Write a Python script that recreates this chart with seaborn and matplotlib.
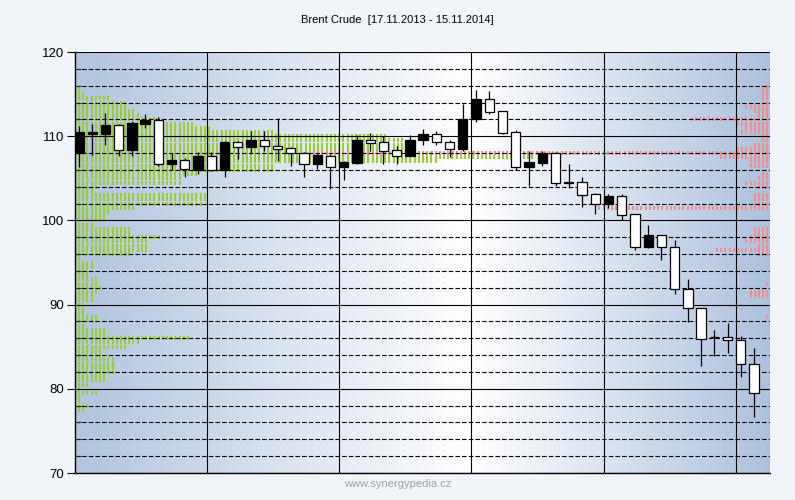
import numpy as np
import pandas as pd
import seaborn as sns
import matplotlib.pyplot as plt
from matplotlib.path import Path
from matplotlib.colors import LinearSegmentedColormap

title = "Brent Crude  [17.11.2013 - 15.11.2014]"
source = "www.synergypedia.cz"

# weekly candles
opens = [108.0, 110.3, 110.3, 111.3, 108.4, 111.5, 111.9, 106.7, 107.2, 106.0,
         107.6, 106.0, 109.3, 108.7, 109.5, 108.8, 108.6, 108.0, 106.7, 107.7,
         106.4, 106.85, 109.5, 109.3, 108.4, 107.65, 109.5, 110.3, 109.3, 108.5,
         112.1, 114.4, 113.0, 110.5, 106.3, 106.85, 108.0, 104.45, 104.55, 103.1,
         102.0, 102.9, 100.8, 96.8, 98.3, 96.8, 91.9, 89.6, 86.15, 86.1,
         85.8, 82.95]
highs = [111.2, 111.4, 112.7, 111.4, 111.8, 112.6, 112.3, 108.0, 107.4, 108.1,
         108.1, 109.4, 109.4, 110.6, 110.6, 112.2, 108.7, 108.1, 107.9, 107.9,
         107.0, 110.1, 110.4, 110.0, 108.8, 110.1, 110.8, 110.6, 109.6, 113.8,
         115.5, 115.4, 113.0, 110.7, 108.3, 108.2, 108.1, 106.7, 105.2, 103.2,
         103.1, 103.1, 100.8, 99.5, 98.3, 97.7, 93.0, 89.6, 87.0, 87.8,
         86.3, 84.8]
lows = [106.3, 107.8, 109.0, 107.7, 107.6, 111.0, 106.5, 106.0, 105.2, 105.5,
        105.9, 105.1, 107.3, 108.0, 108.2, 107.1, 106.5, 105.2, 106.1, 103.7,
        104.8, 106.7, 108.2, 106.7, 106.7, 107.6, 108.9, 109.0, 107.5, 108.3,
        111.7, 112.6, 110.3, 106.0, 104.1, 106.5, 104.1, 103.8, 101.6, 100.8,
        101.5, 100.0, 96.5, 96.7, 95.3, 91.3, 87.9, 82.7, 83.9, 84.3,
        81.4, 76.6]
closes = [110.5, 110.5, 111.3, 108.4, 111.6, 111.9, 106.7, 107.2, 106.1, 107.6,
          106.0, 109.3, 108.7, 109.5, 108.8, 108.5, 108.0, 106.7, 107.8, 106.4,
          106.9, 109.55, 109.2, 108.3, 107.7, 109.55, 110.3, 109.3, 108.5, 112.1,
          114.4, 112.9, 110.4, 106.3, 106.9, 108.0, 104.4, 104.55, 103.05, 102.0,
          102.9, 100.7, 96.8, 98.3, 96.8, 91.9, 89.6, 85.95, 86.2, 85.75,
          82.9, 79.45]

# price profile, dots per level (green from the left, red from the right)
green_levels = [115.5, 115.0, 114.5, 114.0, 113.5, 113.0, 112.5, 112.0, 111.5, 111.0,
                110.5, 110.0, 109.5, 109.0, 108.5, 108.0, 107.5, 107.0, 106.5, 106.0,
                105.5, 105.0, 104.5, 104.0, 103.5, 103.0, 102.5, 102.0, 101.5, 101.0,
                100.5, 100.0, 99.5, 99.0, 98.5, 98.0, 97.5, 97.0, 96.5, 96.0,
                95.5, 95.0, 94.5, 94.0, 93.5, 93.0, 92.5, 92.0, 91.5, 91.0,
                90.5, 90.0, 89.5, 89.0, 88.5, 88.0, 87.5, 87.0, 86.5, 86.0,
                85.5, 85.0, 84.5, 84.0, 83.5, 83.0, 82.5, 82.0, 81.5, 81.0,
                80.5, 80.0, 79.5, 79.0, 78.5, 78.0, 77.5]
green_counts = [1, 2, 8, 12, 12, 14, 15, 20, 28, 32,
                47, 74, 78, 80, 80, 96, 109, 86, 47, 47,
                29, 25, 25, 5, 4, 31, 31, 30, 14, 8,
                7, 7, 4, 13, 13, 20, 17, 17, 17, 13,
                1, 4, 4, 3, 3, 5, 5, 6, 5, 4,
                4, 2, 2, 2, 5, 5, 2, 7, 7, 27,
                15, 12, 6, 6, 9, 9, 9, 9, 7, 7,
                3, 1, 5, 1, 1, 3, 2]
red_levels = [116.0, 115.5, 115.0, 114.5, 114.0, 113.5, 113.0, 112.5, 112.0, 111.5,
              111.0, 110.5, 110.0, 109.5, 109.0, 108.5, 108.0, 107.5, 107.0, 106.5,
              105.5, 105.0, 104.5, 104.0, 103.0, 102.5, 102.0, 101.5, 99.0, 98.5,
              98.0, 97.5, 97.0, 96.5, 96.0, 92.5, 91.5, 91.0, 88.5]
red_counts = [1, 2, 2, 2, 2, 6, 4, 3, 19, 8,
              6, 7, 2, 2, 4, 8, 110, 12, 5, 5,
              2, 3, 6, 3, 4, 4, 4, 41, 4, 4,
              5, 6, 3, 13, 3, 1, 5, 5, 1]

sns.set_theme(style="white")
plt.rcParams['font.family'] = ['Liberation Sans', 'DejaVu Sans']

fig = plt.figure(figsize=(7.95, 5.0), dpi=100, facecolor='#f1f4f9')
ax = fig.add_axes([0.0943, 0.054, 0.8742, 0.842])

x0, x1 = -0.3, 52.2

# horizontal gradient background
bg = LinearSegmentedColormap.from_list('bg', [(0, '#b2c5df'), (0.57, '#ffffff'), (1, '#adc2de')])
ax.imshow(np.linspace(0, 1, 256).reshape(1, -1), extent=[x0, x1, 70, 120],
          aspect='auto', cmap=bg, zorder=0)

# profile dots
step = 0.317
g = pd.DataFrame([(k * step, p) for p, n in zip(green_levels, green_counts) for k in range(n)],
                 columns=['x', 'price'])
r = pd.DataFrame([(52.0 - k * step, p) for p, n in zip(red_levels, red_counts) for k in range(n)],
                 columns=['x', 'price'])
dot = Path([(-0.3, -0.5), (0.3, -0.5), (0.3, 0.5), (-0.3, 0.5), (-0.3, -0.5)], closed=True)
sns.scatterplot(data=g, x='x', y='price', marker=dot, s=12, color='#9acd32',
                linewidth=0, antialiased=False, ax=ax, zorder=1, legend=False)
sns.scatterplot(data=r, x='x', y='price', marker=dot, s=12, color='#f28e8e',
                linewidth=0, antialiased=False, ax=ax, zorder=1, legend=False)

# grid
ax.set_axisbelow(False)
ax.set_yticks(range(70, 121, 10))
ax.set_yticks(np.arange(70, 121, 2), minor=True)
ax.grid(axis='y', which='major', color='black', lw=0.8, ls='-')
ax.grid(axis='y', which='minor', color='black', lw=0.8, ls=(0, (4, 2)))
ax.grid(axis='x', visible=False)
ax.vlines(np.arange(9.65, 52, 10), 70, 120, color='black', lw=0.8, zorder=2.5)

# candles
xs = np.arange(len(opens))
o, c = np.array(opens), np.array(closes)
ax.vlines(xs, lows, highs, color='black', lw=0.9, zorder=3)
ax.bar(xs, np.abs(c - o), bottom=np.minimum(o, c), width=0.7,
       color=np.where(c > o, 'black', 'white'), edgecolor='black', linewidth=0.9, zorder=4)

ax.set_xlim(x0, x1)
ax.set_ylim(70, 120)
ax.set_xlabel('')
ax.set_ylabel('')
ax.tick_params(axis='x', bottom=False, labelbottom=False)
ax.tick_params(axis='y', which='major', direction='out', length=6, width=0.8,
               labelsize=9.5, pad=2, left=True, colors='black')
ax.tick_params(axis='y', which='minor', direction='in', length=4, width=0.8, left=True)
for s in ['top', 'right']:
    ax.spines[s].set_visible(False)
for s in ['left', 'bottom']:
    ax.spines[s].set_color('black')
    ax.spines[s].set_linewidth(1.0)

fig.text(0.5, 1 - 20 / 500, title, ha='center', va='center', fontsize=8, color='black')
fig.text(0.5, 1 - 484 / 500, source, ha='center', va='center', fontsize=8, color='#a0a0a0')

plt.savefig('out.png', dpi=100, facecolor=fig.get_facecolor())
